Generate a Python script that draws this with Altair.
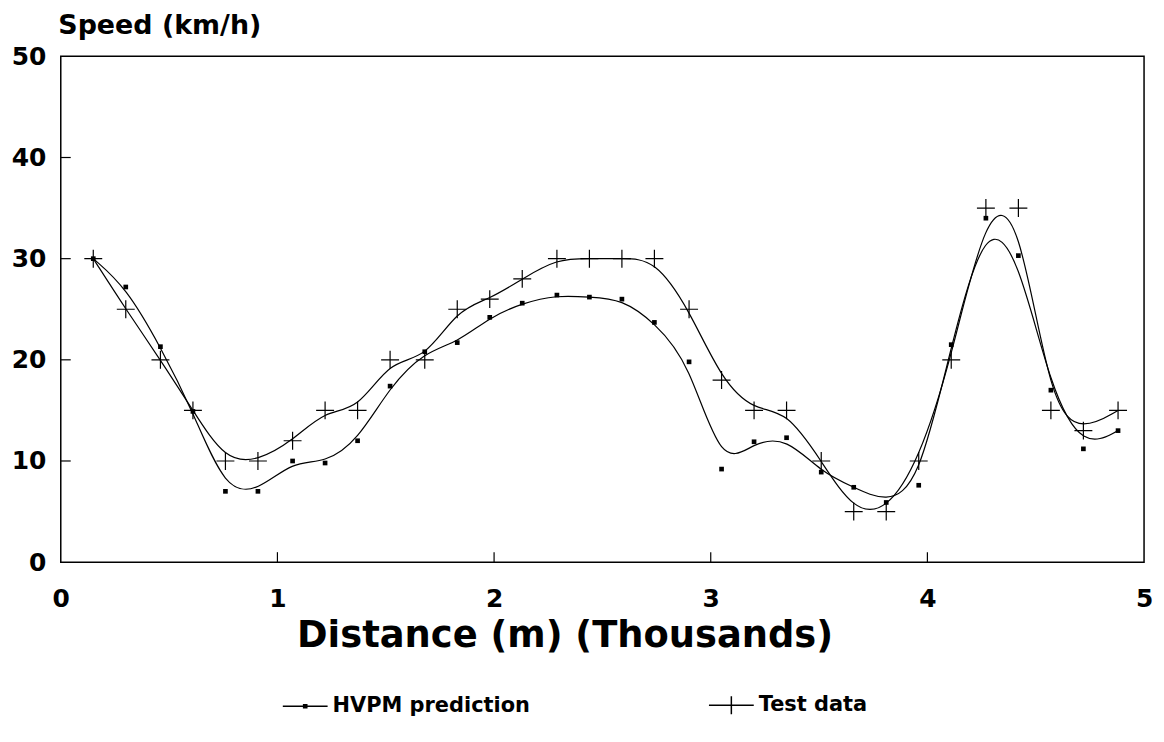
import altair as alt
import pandas as pd

# Distance in thousands of metres (points every 500 ft)
distance_k = [0.15, 0.30, 0.46, 0.61, 0.76, 0.91, 1.07, 1.22, 1.37, 1.52, 1.68,
              1.83, 1.98, 2.13, 2.29, 2.44, 2.59, 2.74, 2.90, 3.05, 3.20, 3.35,
              3.51, 3.66, 3.81, 3.96, 4.11, 4.27, 4.42, 4.57, 4.72, 4.88]
hvpm_speed = [30, 27.2, 21.3, 14.9, 7.0, 7.0, 10.0, 9.8, 12.0, 17.4, 20.8,
              21.7, 24.2, 25.6, 26.4, 26.2, 26.0, 23.7, 19.8, 9.2, 11.9, 12.3,
              8.9, 7.4, 5.9, 7.6, 21.5, 34.0, 30.3, 17.0, 11.2, 13.0]
test_speed = [30, 25, 20, 15, 10, 10, 12, 15, 15, 20, 20,
              25, 26, 28, 30, 30, 30, 30, 25, 18, 15, 15,
              10, 5, 5, 10, 20, 35, 35, 15, 13, 15]
series_names = ["HVPM prediction", "Test data"]
x_tick_values = [1, 2, 3, 4]
y_tick_values = [10, 20, 30, 40]
x_label_values = [0, 1, 2, 3, 4, 5]
y_label_values = [0, 10, 20, 30, 40, 50]

rows = []
for d, v in zip(distance_k, hvpm_speed):
    rows.append({"series": series_names[0], "d": d, "v": v})
for d, v in zip(distance_k, test_speed):
    rows.append({"series": series_names[1], "d": d, "v": v})
df = pd.DataFrame(rows)

W, H = 1088, 508
FONT = "DejaVu Sans"
PLUS = "M-1,0L1,0M0,-1L0,1"
LEG_H = "M-1,0L1,0M-0.07,-0.07L0.07,-0.07L0.07,0.07L-0.07,0.07Z"
LEG_T = "M-1,0L1,0M0,-0.4L0,0.4"

xs = alt.Scale(domain=[0, 5], nice=False, zero=False)
ys = alt.Scale(domain=[0, 50], nice=False)

x_axis = alt.Axis(values=x_label_values, format="d", tickSize=0, domain=False,
                  grid=False, labelFont=FONT, labelFontSize=25,
                  labelFontWeight="bold", labelPadding=25, labelColor="black",
                  labelFlush=False, labelOverlap=False,
                  title="Distance (m) (Thousands)", titleFont=FONT,
                  titleFontSize=37, titleFontWeight="bold", titleColor="black",
                  titleX=506, titleY=85, titleBaseline="alphabetic",
                  titleAlign="center")
y_axis = alt.Axis(values=y_label_values, format="d", tickSize=0, domain=False,
                  grid=False, labelFont=FONT, labelFontSize=25,
                  labelFontWeight="bold", labelPadding=15, labelColor="black",
                  labelFlush=False, labelOverlap=False,
                  title="Speed (km/h)", titleFont=FONT, titleFontSize=27,
                  titleFontWeight="bold", titleColor="black", titleAngle=0,
                  titleAlign="left", titleX=-3, titleY=-23,
                  titleBaseline="alphabetic")

base = alt.Chart(df)

lines = base.mark_line(interpolate="basis", color="black", strokeWidth=1.2).encode(
    x=alt.X("d:Q", scale=xs, axis=x_axis),
    y=alt.Y("v:Q", scale=ys, axis=y_axis),
    detail="series:N",
)

pts_h = base.transform_filter(alt.datum.series == series_names[0]).mark_point(
    shape="square", filled=True, color="black", size=22, opacity=1
).encode(x="d:Q", y="v:Q")

pts_t = base.transform_filter(alt.datum.series == series_names[1]).mark_point(
    shape=PLUS, filled=False, color="black", size=324, strokeWidth=1.2, opacity=1
).encode(x="d:Q", y="v:Q")

legend_layer = base.transform_filter("false").mark_point(
    filled=False, color="black", strokeWidth=1.5, opacity=1
).encode(
    x="d:Q", y="v:Q",
    shape=alt.Shape("series:N",
                    scale=alt.Scale(domain=series_names, range=[LEG_H, LEG_T]),
                    legend=alt.Legend(orient="none", legendX=222, legendY=628,
                                      direction="horizontal", title=None,
                                      labelFont=FONT, labelFontSize=21,
                                      labelFontWeight="bold", labelColor="black",
                                      labelLimit=400,
                                      symbolSize=2025, symbolStrokeWidth=1.5,
                                      symbolStrokeColor="black",
                                      symbolFillColor="black",
                                      symbolOpacity=1,
                                      columnPadding=176, labelOffset=4)),
)

ytick = alt.Chart(pd.DataFrame({"v": y_tick_values})).mark_rule(
    color="black", strokeWidth=1.2
).encode(y="v:Q", x=alt.value(0), x2=alt.value(10))

xtick = alt.Chart(pd.DataFrame({"d": x_tick_values})).mark_rule(
    color="black", strokeWidth=1.2
).encode(x="d:Q", y=alt.value(H), y2=alt.value(H - 10))

chart = alt.layer(lines, pts_h, pts_t, legend_layer, ytick, xtick).properties(
    width=W, height=H,
    background="white",
    autosize=alt.AutoSizeParams(type="none"),
    padding={"left": 53, "top": 47, "right": 12, "bottom": 160},
).configure_view(stroke="black", strokeWidth=1.5)

chart.save("out.html", embed_options={"renderer": "svg", "actions": False})
